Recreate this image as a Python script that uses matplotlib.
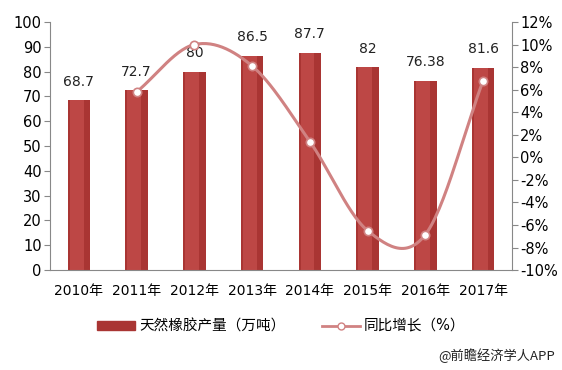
import numpy as np
import matplotlib
matplotlib.use("Agg")
import matplotlib.pyplot as plt
from matplotlib.lines import Line2D
from matplotlib.patches import Patch

plt.rcParams["font.family"] = ["DejaVu Sans", "Noto Sans CJK SC"]

years = ["2010年", "2011年", "2012年", "2013年", "2014年", "2015年", "2016年", "2017年"]
output = [68.7, 72.7, 80, 86.5, 87.7, 82, 76.38, 81.6]
output_labels = ["68.7", "72.7", "80", "86.5", "87.7", "82", "76.38", "81.6"]
growth = [None, 5.8, 10.0, 8.1, 1.4, -6.5, -6.85, 6.8]

BAR = "#a93533"
BAR_LIGHT = "#bd4745"
LINE = "#d08282"


def catmull_rom(xs, ys, n=30):
    # smooth drawing path through the given points (Excel-like smoothed line)
    px = np.concatenate([[2 * xs[0] - xs[1]], xs, [2 * xs[-1] - xs[-2]]])
    py = np.concatenate([[2 * ys[0] - ys[1]], ys, [2 * ys[-1] - ys[-2]]])
    out_x, out_y = [], []
    t = np.linspace(0, 1, n)
    for i in range(1, len(px) - 2):
        p0, p1, p2, p3 = py[i - 1], py[i], py[i + 1], py[i + 2]
        q0, q1, q2, q3 = px[i - 1], px[i], px[i + 1], px[i + 2]
        f = lambda a, b, c, d: 0.5 * ((2 * b) + (-a + c) * t
                                      + (2 * a - 5 * b + 4 * c - d) * t ** 2
                                      + (-a + 3 * b - 3 * c + d) * t ** 3)
        out_x.extend(f(q0, q1, q2, q3))
        out_y.extend(f(p0, p1, p2, p3))
    return np.array(out_x), np.array(out_y)


def main():
    fig = plt.figure(figsize=(5.62, 3.70), dpi=100)
    ax = fig.add_axes([0.089, 0.270, 0.822, 0.6705])
    x = np.arange(len(years))

    ax.bar(x, output, width=0.39, color=BAR, zorder=2)
    ax.bar(x - 0.04, output, width=0.24, color=BAR_LIGHT, zorder=2)
    for xi, v, lab in zip(x, output, output_labels):
        ax.text(xi, v + 4.5, lab, ha="center", va="bottom", fontsize=10, color="#222222")

    ax.set_ylim(0, 100)
    ax.set_yticks(range(0, 101, 10))
    ax.set_xlim(-0.5, len(years) - 0.5)
    ax.set_xticks(x)
    ax.set_xticklabels(years, fontsize=10)
    ax.tick_params(axis="y", labelsize=10.5, length=4, color="#888888", pad=2)
    ax.tick_params(axis="x", length=0, pad=10)
    for s in ["top", "right"]:
        ax.spines[s].set_visible(False)
    ax.spines["left"].set_color("#888888")
    ax.spines["bottom"].set_color("#888888")

    ax2 = ax.twinx()
    gx = np.array([xi for xi, g in zip(x, growth) if g is not None], dtype=float)
    gy = np.array([g for g in growth if g is not None], dtype=float)
    sx, sy = catmull_rom(gx, gy)
    ax2.plot(sx, sy, color=LINE, lw=2.2, zorder=3)
    ax2.plot(gx, gy, "o", ms=6, mfc="white", mec=LINE, mew=1.2, zorder=4)
    ax2.set_ylim(-10, 12)
    ax2.set_yticks(range(-10, 13, 2))
    ax2.set_yticklabels([f"{v}%" for v in range(-10, 13, 2)])
    ax2.tick_params(axis="y", labelsize=10.5, length=4, color="#888888", pad=2)
    for s in ["top", "left", "bottom"]:
        ax2.spines[s].set_visible(False)
    ax2.spines["right"].set_color("#888888")

    handles = [
        Patch(facecolor=BAR, edgecolor=BAR),
        Line2D([0], [0], color=LINE, lw=2, marker="o", ms=5, mfc="white", mec=LINE),
    ]
    fig.legend(handles, ["天然橡胶产量（万吨）", "同比增长（%）"], loc="center",
               bbox_to_anchor=(0.5, 0.118), ncol=2, frameon=False, fontsize=10.5,
               handlelength=2.6, handleheight=0.6, columnspacing=2.5, handletextpad=0.3)

    fig.text(0.988, 0.04, "@前瞻经济学人APP", ha="right", va="center", fontsize=9.5,
             family=["Noto Sans CJK SC", "DejaVu Sans"], color="#222222")

    fig.savefig("out.png", dpi=100, facecolor="white")


if __name__ == "__main__":
    main()
